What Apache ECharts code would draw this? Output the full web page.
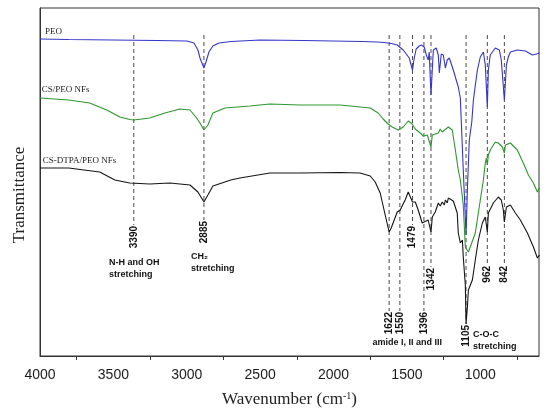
<!DOCTYPE html>
<html><head><meta charset="utf-8">
<script src="https://cdn.jsdelivr.net/npm/echarts@6/dist/echarts.min.js"></script>
<style>html,body{margin:0;padding:0;background:#fff}#c{width:551px;height:415px}</style>
</head><body><div id="c"></div>
<script>
// ---- Data ----
const seriesNames = ['PEO', 'CS/PEO NFs', 'CS-DTPA/PEO NFs'];

const peoWavenumber = [4000,3804,3504,3204,2999,2951,2924,2910,2883,2869,2849,2822,2781,2699,2501,2201,2003,1805,1703,1655,1607,1566,1525,1484,1462,1450,1437,1416,1402,1382,1368,1355,1348,1336,1320,1300,1286,1279,1266,1252,1238,1225,1211,1184,1150,1136,1129,1116,1097,1088,1075,1058,1047,1020,1000,979,966,952,945,932,898,870,857,836,822,809,795,748,693,645,618,597];
const peoTransmittance = [317,316.5,316,315.5,315,313,306,298,288,294,304,310,313,314.5,316,315.5,315,314.5,314,313.5,312.5,311,306,298,286,298,307,310,311,309,301,296,304,261,306,308,301,283,302,301,288,296,298,286,269,258,256,186,121,166,216,234,256,286,299,304,291,249,286,301,308,306,296,256,291,299,304,306,305,301,302,303];

const csPeoWavenumber = [4000,3804,3661,3545,3456,3388,3361,3252,3149,3047,2978,2938,2910,2883,2856,2822,2740,2569,2433,2228,1955,1750,1696,1662,1628,1600,1560,1548,1525,1491,1464,1443,1409,1389,1361,1348,1336,1327,1286,1273,1259,1252,1218,1191,1170,1150,1136,1116,1102,1081,1068,1034,1000,979,966,959,952,945,932,898,877,850,836,829,795,748,707,672,638,611,597];
const csPeoTransmittance = [258,256,253,246,239,236.5,236,238,243,247,246,239,233,226,231,243,248,250,252,251,251,248,243,237,232,229,226,224,229,235,232,227,223,220,221,221,209,221,223,227,224,222,229,226,206,186,176,151,109,104,106,123,156,176,193,198,191,201,206,214,213,209,203,211,213,206,193,181,173,164,168];

const csDtpaWavenumber = [4000,3804,3700,3593,3490,3388,3252,3115,2978,2924,2883,2856,2822,2781,2700,2638,2433,2228,1955,1819,1750,1716,1682,1648,1621,1607,1566,1546,1512,1491,1478,1462,1443,1423,1396,1384,1355,1336,1327,1307,1286,1273,1259,1245,1238,1225,1218,1205,1184,1157,1150,1136,1122,1116,1102,1097,1088,1081,1054,1034,1013,986,966,952,945,911,877,857,843,836,822,795,761,727,679,638,611,597];
const csDtpaTransmittance = [188,188,186,184,176,173,172,173,171,164,154,161,170,172,176,178,183,183,183.5,183,180,174,163,141,124,128,144,146,156,164,163,154,154,146,133,131,136,124,139,144,153,150,154,151,156,153,158,158,155,143,123,113,116,99,71,32,49,66,76,96,116,133,139,124,143,153,159,156,146,134,149,151,143,136,123,109,98,101];

// Peak marker lines (drawn position, printed label, dashed extent in a.u.)
const peakPositions = [3361, 2883, 1621, 1548, 1462, 1384, 1336, 1097, 952, 836];
const peakLabels = ['3390', '2885', '1622', '1550', '1479', '1396', '1342', '1105', '962', '842'];
const peakLineTop = 321;
const peakLineBottom = [131, 136, 45, 45, 131, 45, 89, 32, 91, 91];

// Text notes
const groupNotes = ['N-H and OH\nstretching', 'CH\u2082\nstretching', 'amide I, II and III', 'C-O-C\nstretching'];
const groupNoteAt = [[3530, 99], [2971, 105], [1497, 13], [1050, 27]];
const nameLabelAt = [[3966, 324], [3988, 266], [3981, 195]];

// Axis ticks
const xTickLabels = [1000, 1500, 2000, 2500, 3000, 3500, 4000];
const xTickMarks = [750, 1250, 1750, 2250, 2750, 3250, 3750];

// ---- Chart ----
function pairs(x, y) { const n = Math.min(x.length, y.length); const o = []; for (let i = 0; i < n; i++) o.push([x[i], y[i]]); return o; }
const chart = echarts.init(document.getElementById('c'));
const lineColors = ['#3535c8', '#2f962f', '#151515'];
const spectra = [pairs(peoWavenumber, peoTransmittance), pairs(csPeoWavenumber, csPeoTransmittance), pairs(csDtpaWavenumber, csDtpaTransmittance)];

const serifFont = '"Liberation Serif", "Times New Roman", serif';
const sansFont = '"Liberation Sans", Arial, sans-serif';

const series = spectra.map((d, i) => ({
  name: seriesNames[i], type: 'line', data: d, showSymbol: false, symbol: 'none',
  lineStyle: { color: lineColors[i], width: 1.1 }, itemStyle: { color: lineColors[i] }, z: 3
}));

series.push({
  type: 'custom', z: 2, silent: true,
  data: peakPositions.map((p, i) => [p, peakLineTop, peakLineBottom[i], i]),
  encode: { x: 0, y: [1, 2] },
  renderItem: function (params, api) {
    const x = api.value(0);
    const t = api.coord([x, api.value(1)]);
    const b = api.coord([x, api.value(2)]);
    return { type: 'group', children: [
      { type: 'line', shape: { x1: t[0], y1: t[1], x2: b[0], y2: b[1] }, style: { stroke: '#4a4a4a', lineWidth: 1, lineDash: [4, 3] } },
      { type: 'text', x: b[0], y: b[1] + 1, rotation: Math.PI / 2,
        style: { text: peakLabels[api.value(3)], font: 'bold 10px ' + sansFont, fill: '#111', align: 'right', verticalAlign: 'middle' } }
    ] };
  }
});

series.push({
  type: 'custom', z: 4, silent: true,
  data: groupNoteAt.map((p, i) => [p[0], p[1], i]),
  encode: { x: 0, y: 1 },
  renderItem: function (params, api) {
    const i = api.value(2);
    const c = api.coord([api.value(0), api.value(1)]);
    const centered = groupNotes[i].indexOf('amide') === 0;
    return { type: 'text', x: c[0], y: c[1],
      style: { text: groupNotes[i], font: 'bold 9px ' + sansFont, fill: '#111', lineHeight: 11.5,
        align: centered ? 'center' : 'left', verticalAlign: centered ? 'middle' : 'top' } };
  }
});

series.push({
  type: 'custom', z: 4, silent: true,
  data: nameLabelAt.map((p, i) => [p[0], p[1], i]),
  encode: { x: 0, y: 1 },
  renderItem: function (params, api) {
    const i = api.value(2);
    const c = api.coord([api.value(0), api.value(1)]);
    return { type: 'text', x: c[0], y: c[1],
      style: { text: seriesNames[i], font: '9px ' + serifFont, fill: '#222', align: 'left', verticalAlign: 'middle' } };
  }
});

chart.setOption({
  animation: false,
  backgroundColor: '#fff',
  grid: { left: 40, right: 12, top: 8, bottom: 59, show: true, borderColor: '#333', borderWidth: 1, backgroundColor: 'transparent' },
  xAxis: {
    type: 'value', inverse: true, min: 600, max: 4000,
    axisLine: { show: true, lineStyle: { color: '#333', width: 1 } },
    splitLine: { show: false },
    axisTick: { show: true, inside: false, length: 4, customValues: xTickMarks, lineStyle: { color: '#333' } },
    axisLabel: { customValues: xTickLabels, formatter: function (v) { return String(v); },
      fontFamily: sansFont, fontSize: 14, color: '#1a1a1a', margin: 12 },
    name: 'Wavenumber (cm{sup|-1})', nameLocation: 'middle', nameGap: 35,
    nameTextStyle: { fontFamily: serifFont, fontSize: 17, color: '#222',
      rich: { sup: { fontFamily: serifFont, fontSize: 10, color: '#222', verticalAlign: 'top' } } }
  },
  yAxis: {
    type: 'value', min: 0, max: 348,
    axisLine: { show: true, lineStyle: { color: '#333', width: 1 } },
    axisTick: { show: false }, axisLabel: { show: false }, splitLine: { show: false },
    name: 'Transmittance', nameLocation: 'middle', nameGap: 12,
    nameTextStyle: { fontFamily: serifFont, fontSize: 17, color: '#222', padding: [0, 26, 0, 0] }
  },
  series: series
});
</script>
</body></html>
